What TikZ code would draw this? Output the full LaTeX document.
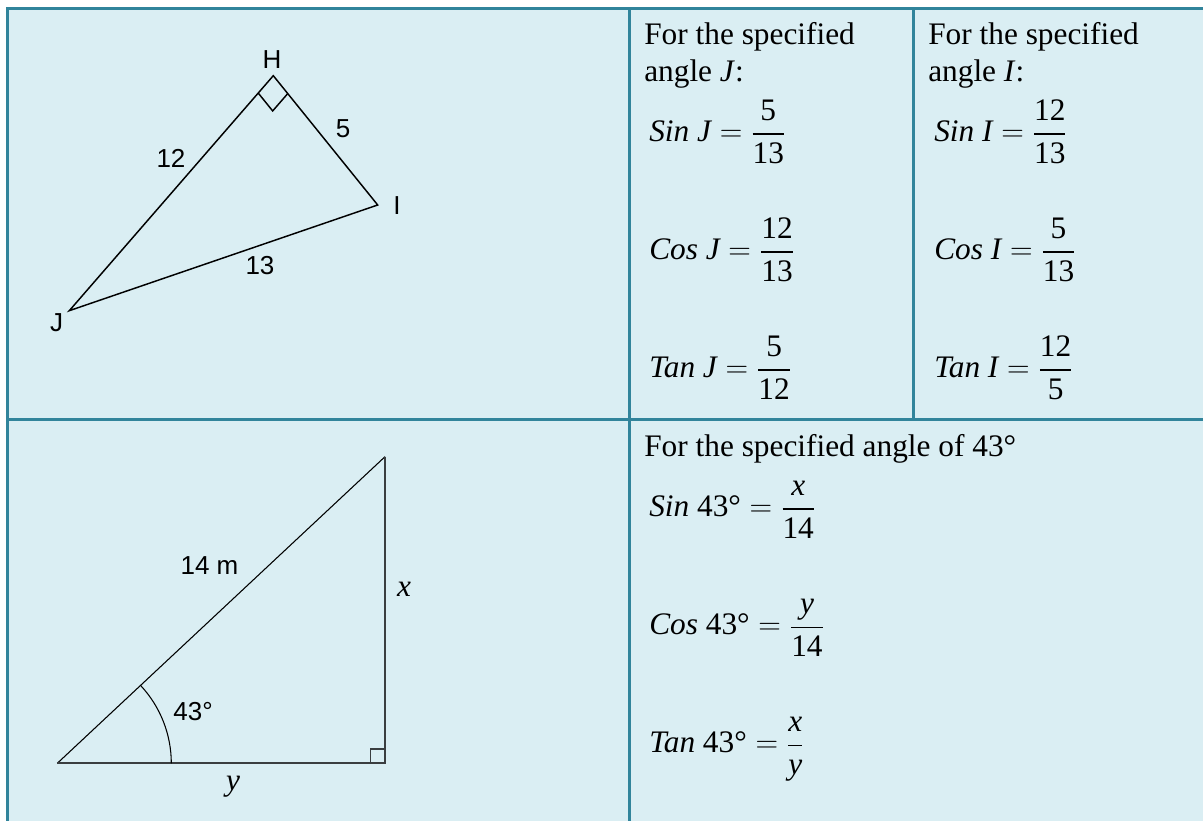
\documentclass[tikz,border=0pt]{standalone}
\usepackage{fix-cm}
\usepackage{amsmath}
\usepackage{fontspec}
\setmainfont{Liberation Serif}
\newfontfamily\lsans{Liberation Sans}
\usetikzlibrary{calc}
\definecolor{tealb}{RGB}{49,132,155}
\definecolor{paleb}{RGB}{218,238,243}
\definecolor{darkline}{RGB}{58,62,64}
\tikzset{
  gridline/.style={draw=tealb, line width=2.25pt},
  lbl/.style={font=\lsans\fontsize{19.5}{22}\selectfont, inner sep=0pt},
  txt/.style={font=\fontsize{23.5}{28}\selectfont, inner sep=0pt, anchor=base west},
}
\newcommand{\trigfrac}[2]{\dfrac{\text{#1}}{\text{#2}}}

\begin{document}
\begin{tikzpicture}[x=0.75pt, y=0.75pt]
    \useasboundingbox (0,0) rectangle (1203,821);
    \fill[paleb] (6,0) rectangle (1203,814);
    \draw[gridline] (6,812.7) -- (1203,812.7);
    \draw[gridline] (7.5,0) -- (7.5,814);
    \draw[gridline] (6,401) -- (1203,401);
    \draw[gridline] (629,0) -- (629,814);
    \draw[gridline] (913,401) -- (913,814);

    \coordinate (H) at (273.3,745.3);
    \coordinate (I) at (377.7,616);
    \coordinate (J) at (69.3,510.3);
    \draw[line width=1.1pt] (H) -- (I) -- (J) -- cycle;
    \coordinate (ra) at ($(H)!17.25pt!(J)$);
    \coordinate (rb) at ($(H)!17.25pt!(I)$);
    \draw[line width=1.1pt] (ra) -- ($(ra)+(rb)-(H)$) -- (rb);
    \node[lbl] (labH) at (272,761.3) {H};
    \node[lbl] (labI) at (397,615.5) {I};
    \node[lbl] (labJ) at (56.7,498) {J};
    \node[lbl] (lab12) at (171,663) {12};
    \node[lbl] (lab5) at (343,692) {5};
    \node[lbl] (lab13) at (260,555) {13};

    \node[txt] (forJ) at (644,776) {For the specified};
    \node[txt] (angJ) at (644,739) {angle \textit{J}:};
    \node[txt] (sinJ) at (649,679) {$\textit{Sin J} = \trigfrac{5}{13}$};
    \node[txt] (cosJ) at (649,561) {$\textit{Cos J} = \trigfrac{12}{13}$};
    \node[txt] (tanJ) at (649,443) {$\textit{Tan J} = \trigfrac{5}{12}$};
    \node[txt] (forI) at (928,776) {For the specified};
    \node[txt] (angI) at (928,739) {angle \textit{I}:};
    \node[txt] (sinI) at (934,679) {$\textit{Sin I} = \trigfrac{12}{13}$};
    \node[txt] (cosI) at (934,561) {$\textit{Cos I} = \trigfrac{5}{13}$};
    \node[txt] (tanI) at (934,443) {$\textit{Tan I} = \trigfrac{12}{5}$};

    \coordinate (A) at (57.3,57.7);
    \coordinate (B) at (385,364.3);
    \coordinate (C) at (385,57.7);
    \draw[line width=0.8pt] (A) -- (B);
    \draw[darkline, line width=1.5pt] (B) -- (C) -- (A);
    \draw[darkline, line width=1.3pt] ($(C)+(-14.5,0)$) rectangle ($(C)+(0,14.5)$);
    \draw[line width=0.8pt] ($(A)+(114,0)$) arc[start angle=0, end angle=43, radius=85.5pt];
    \node[lbl] (lab14) at (209.5,255) {14 m};
    \node[lbl] (lab43) at (193,109.3) {43°};
    \node[txt, anchor=base] (labx) at (404,224) {\textit{x}};
    \node[txt, anchor=base] (laby) at (233,31) {\textit{y}};

    \node[txt] (for43) at (644,364) {For the specified angle of 43°};
    \node[txt] (sin43) at (649,304) {$\text{\textit{Sin} 43°} = \dfrac{\textit{x}}{\text{14}}$};
    \node[txt] (cos43) at (649,186) {$\text{\textit{Cos} 43°} = \dfrac{\textit{y}}{\text{14}}$};
    \node[txt] (tan43) at (649,68) {$\text{\textit{Tan} 43°} = \dfrac{\textit{x}}{\textit{y}}$};
\end{tikzpicture}
\end{document}
